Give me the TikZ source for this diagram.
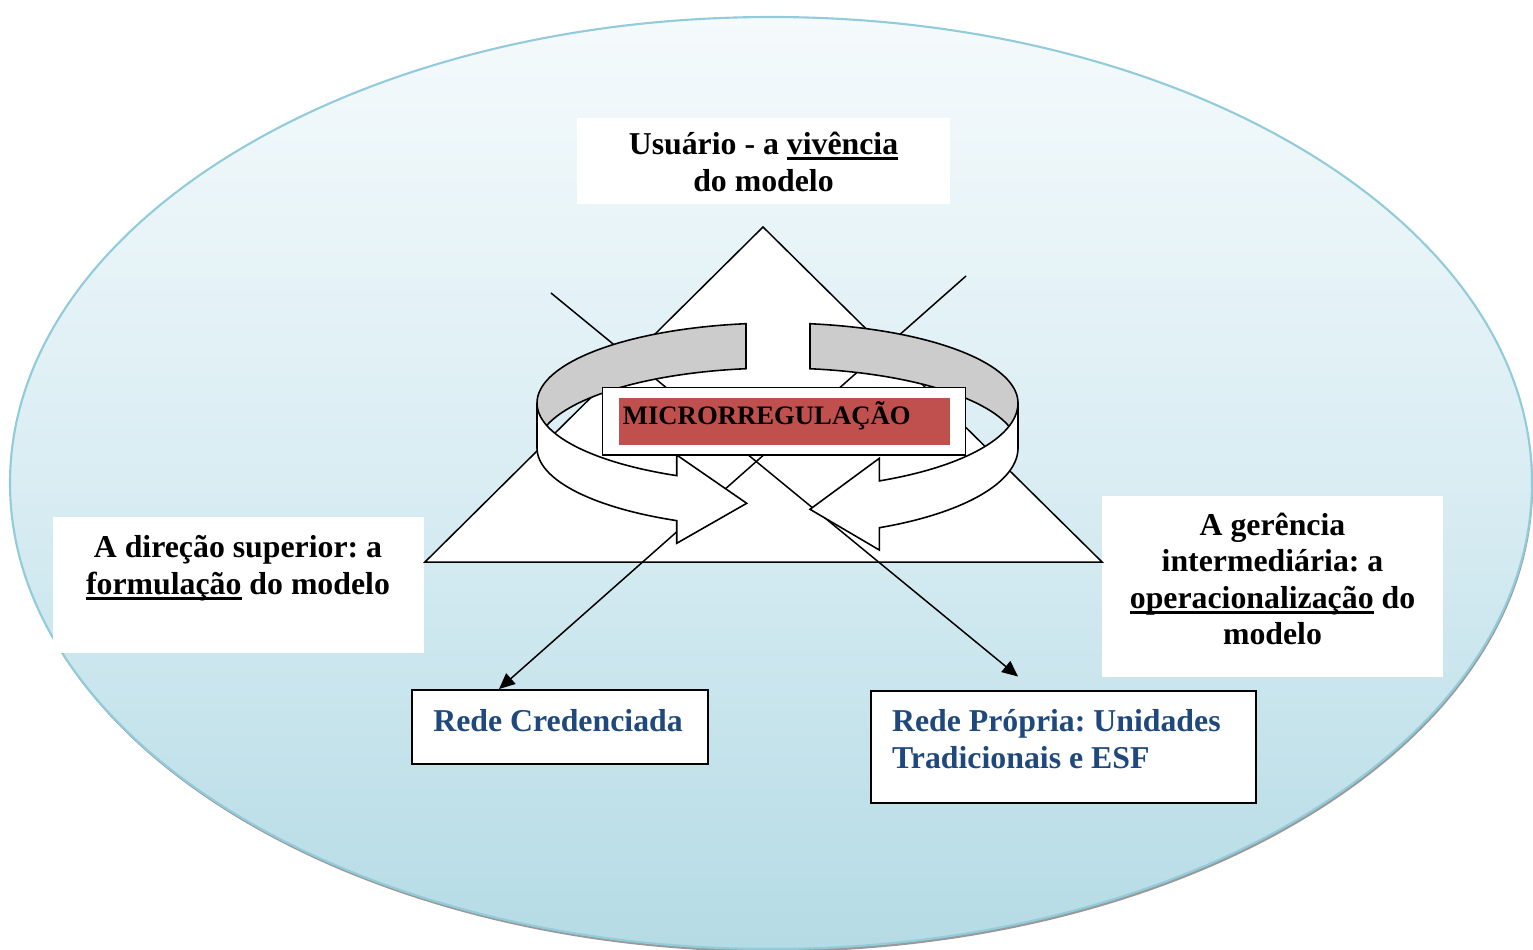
\documentclass[tikz,border=0pt]{standalone}
\usepackage{fontspec}
\setmainfont{Liberation Serif}
\usetikzlibrary{arrows.meta,calc,fit}
\definecolor{ellbord}{HTML}{92CBD9}
\definecolor{elltop}{HTML}{F5FAFC}
\definecolor{ellmid}{HTML}{D9EDF3}
\definecolor{ellbot}{HTML}{B5DBE5}
\definecolor{ringgrey}{HTML}{CCCCCC}
\definecolor{microred}{HTML}{C0504D}
\definecolor{redeblue}{HTML}{1F497D}
\frenchspacing
\newcommand\myul[1]{\setbox0\hbox{#1}\rlap{\rule[-3.1pt]{\wd0}{1.5pt}}\box0\relax}
\begin{document}
\begin{tikzpicture}[x=0.02cm,y=-0.02cm,
  whitebox/.style={fill=white,draw=none,inner sep=0pt},
  framebox/.style={fill=white,draw=black,line width=1.1pt,inner sep=0pt},
  txt/.style={font=\bfseries\frenchspacing\fontsize{18.1}{20.8}\selectfont,inner sep=0pt},
  bluetxt/.style={txt,text=redeblue},
  conn/.style={draw=black,line width=0.85pt,-{Triangle[length=9pt,width=8pt]}},
  ring/.style={draw=black,line width=0.9pt,line join=miter},
]
\useasboundingbox (0,0) rectangle (1533,949);

% background ellipse with soft grey rim
\fill[black!40] (772,486) ellipse [x radius=761, y radius=466];
\path[draw=ellbord,line width=1.2pt,top color=elltop,bottom color=ellbot,middle color=ellmid]
  (771,483) ellipse [x radius=761, y radius=466];

% white label boxes
\node[whitebox,fit={(577,118) (950,204)}] (usrbox) {};
\node[whitebox,fit={(53,517) (424,653)}] (dirbox) {};
\node[whitebox,fit={(1102,496) (1443,677)}] (gerbox) {};

% triangle
\draw[line width=0.85pt,fill=white] (763,227) -- (425,562) -- (1102,562) -- cycle;

% bottom framed boxes
\node[framebox,fit={(412,690) (708,764)}] (cred) {};
\node[framebox,fit={(871,691) (1256,803)}] (prop) {};

% connectors
\coordinate (s1) at (551,293);
\coordinate (s2) at (966,276);
\coordinate (proptip) at (1018,676.5);
\path (cred.north west) ++(88,0) coordinate (credtip);
\draw[conn] (s1) -- (proptip);
\draw[conn] (s2) -- (credtip);

% circular arrow: back (grey) parts
\filldraw[ring,fill=ringgrey]
  plot[domain=262.47:180,samples=40] ({777.5+240.5*cos(\x)},{403+80*sin(\x)})
  -- plot[domain=180:262.47,samples=40] ({777.5+240.5*cos(\x)},{448+80*sin(\x)})
  -- cycle;
\filldraw[ring,fill=ringgrey]
  plot[domain=277.77:360,samples=40] ({777.5+240.5*cos(\x)},{403+80*sin(\x)})
  -- plot[domain=360:277.77,samples=40] ({777.5+240.5*cos(\x)},{448+80*sin(\x)})
  -- cycle;
% front (white) parts with arrowheads
\filldraw[ring,fill=white]
  plot[domain=180:114.78,samples=40] ({777.5+240.5*cos(\x)},{403+80*sin(\x)})
  -- (676.7,455) -- (746.7,503.3) -- (676.7,543.3)
  -- plot[domain=114.78:180,samples=40] ({777.5+240.5*cos(\x)},{448+80*sin(\x)})
  -- cycle;
\filldraw[ring,fill=white]
  plot[domain=0:64.96,samples=40] ({777.5+240.5*cos(\x)},{403+86*sin(\x)})
  -- (879.3,458.3) -- (810,509.3) -- (879.3,550)
  -- plot[domain=64.96:0,samples=40] ({777.5+240.5*cos(\x)},{448+88*sin(\x)})
  -- cycle;

% microrregulacao box
\node[framebox,fit={(602.5,387.5) (965.5,455)}] (microbox) {};
\node[fill=microred,draw=none,inner sep=0pt,fit={(619,398) (950,445)}] (microred) {};
\node[txt,font=\bfseries\fontsize{15.2}{18}\selectfont,anchor=base west] (microtxt) at (622.5,424) {MICRORREGULAÇÃO};

% texts
\node[txt,anchor=base] (usrtxt) at (763.5,154.5)
  {\begin{tabular}[t]{@{}c@{}}Usuário - a \myul{vivência}\\do modelo\end{tabular}};
\node[txt,anchor=base] (dirtxt) at (238,557.7)
  {\begin{tabular}[t]{@{}c@{}}A direção superior: a\\\myul{formulação} do modelo\end{tabular}};
\node[txt,anchor=base] (gertxt) at (1272.5,535)
  {\begin{tabular}[t]{@{}c@{}}A gerência\\intermediária: a\\\myul{operacionalização} do\\modelo\end{tabular}};
\node[bluetxt,anchor=base west] (credtxt) at (433,731.7) {Rede Credenciada};
\node[bluetxt,anchor=base west] (proptxt) at (891.7,731.7)
  {\begin{tabular}[t]{@{}l@{}}Rede Própria: Unidades\\Tradicionais e ESF\end{tabular}};
\end{tikzpicture}
\end{document}
